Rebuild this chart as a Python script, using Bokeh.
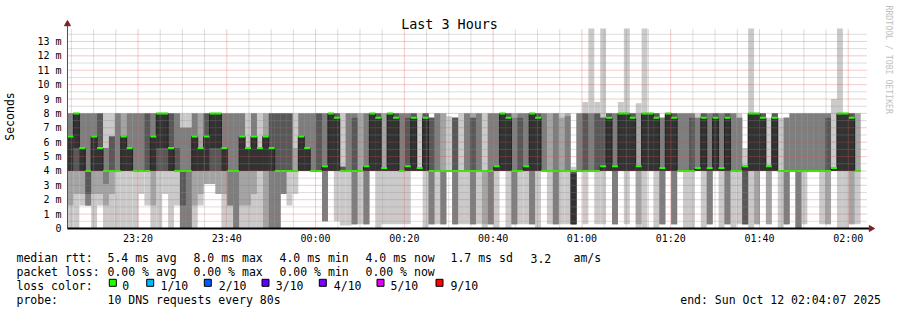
import math
import numpy as np
from bokeh.plotting import figure
from bokeh.layouts import column
from bokeh.models import FixedTicker, Range1d
from bokeh.core.properties import value
from bokeh.embed import file_html
from bokeh.resources import INLINE

# ---------------- data ----------------
STEP_MIN = 80.0 / 60.0            # one probe round every 80 s
START_MIN = 4.0 + 7.0 / 60.0      # 23:04:07, minutes after 23:00
SPAN_MIN = 180.0                  # last 3 hours
Y_TOP = 13.9                      # top of the value axis (ms)

x_tick_pos = [20, 40, 60, 80, 100, 120, 140, 160, 180]
x_tick_labels = ["23:20", "23:40", "00:00", "00:20", "00:40",
                 "01:00", "01:20", "01:40", "02:00"]
y_tick_pos = [0, 1, 2, 3, 4, 5, 6, 7, 8, 9, 10, 11, 12, 13]
y_tick_labels = ["0", "1 m", "2 m", "3 m", "4 m", "5 m", "6 m", "7 m",
                 "8 m", "9 m", "10 m", "11 m", "12 m", "13 m"]

# median rtt per round (ms)
median = [6.4, 8, 5.6, 4, 6.4, 5.6, 4, 4, 4, 6.4,
          5.6, 4, 4, 4, 6.4, 8, 8, 5.6, 4, 4,
          4, 6.4, 5.6, 6.4, 8, 8, 5.6, 4, 4, 6.4,
          5.6, 6.4, 5.6, 6.4, 5.6, 4, 4, 4, 4, 6.4,
          5.6, 4, 4, 4.33, 8, 7.7, 4, 4, 4, 4,
          4.33, 8, 7.7, 4.2, 8, 7.7, 4, 4.33, 7.7, 4.2,
          7.7, 4, 4, 4, 4, 4, 4, 4, 4, 4,
          4, 4, 4.33, 8, 7.7, 4, 4, 4.33, 8, 7.7,
          4, 4, 4, 4, 4, 4, 4, 4, 4, 4,
          4.33, 7.7, 4.33, 8, 8, 7.7, 4.33, 8, 8, 7.7,
          4.2, 8, 7.7, 4, 4, 4, 4.2, 7.7, 4.2, 7.7,
          4.2, 7.7, 4, 4, 4.33, 8, 8, 7.7, 4.33, 7.7,
          4, 4, 4, 4, 4, 4, 4, 4, 4, 4.2,
          8, 8, 7.7, 4]

# the ten sorted pings of every round (ms), lowest to highest
ping1 = [0, 0, 1.6, 1.6, 0, 1.6, 0, 0, 0, 0,
         0, 0, 2.4, 1.6, 0, 0, 2.4, 0, 1.6, 0,
         0, 0, 1.6, 3.1, 3.1, 2.4, 0, 0, 0, 0,
         0, 0, 0, 0, 0, 0, 2.4, 1.6, 2.4, 4,
         4, 4, 4, 0.5, 4, 0.5, 0.2, 0.2, 0.3, 0.3,
         0.3, 4, 0, 0.3, 0.3, 0.3, 0.3, 0.3, 4, 4,
         0, 0.3, 0.3, 0.3, 4, 0.3, 0.3, 0.3, 0.3, 0.3,
         0, 0.3, 0, 4, 0, 0.3, 0.3, 0.3, 0.3, 0,
         4, 0.3, 0.3, 0.3, 0.3, 0.3, 4, 0.3, 4, 0.3,
         0.3, 4, 0.3, 4, 0.3, 4, 0, 0, 4, 0,
         0.3, 4, 0.3, 4, 0, 0, 4, 0, 0.3, 4,
         0, 0.3, 0, 0.3, 0.3, 0, 0.3, 4, 0.3, 4,
         0, 0.3, 4, 0, 0.3, 4, 4, 0.3, 0.3, 4,
         0, 0, 0.3, 0.3]
ping2 = [1.6, 2.4, 2.4, 1.6, 2.4, 2.4, 1.6, 2.4, 4, 4,
         4, 4, 4, 4, 1.6, 4, 4, 4, 4, 0,
         0, 1.6, 2.4, 3.1, 3.1, 2.4, 2.4, 1.6, 0, 1.6,
         1.6, 2.4, 4, 0, 0, 0, 2.4, 4, 4, 4,
         4, 4, 4, 0.5, 4, 4, 4, 4, 0.3, 4,
         0.3, 4, 4, 4, 4, 4, 4, 4, 4, 4,
         4, 0.3, 4, 0.3, 4, 0.3, 4, 4, 0.3, 4,
         0.3, 0.3, 4, 4, 4, 0.3, 4, 4, 0.3, 4,
         4, 4, 0.3, 4, 4, 0.3, 4, 4, 4, 4,
         4, 4, 0.3, 4, 4, 4, 0.3, 4, 4, 4,
         0.3, 4, 0.3, 4, 4, 4, 4, 4, 0.3, 4,
         4, 0.3, 4, 4, 0.3, 4, 0.3, 4, 0.3, 4,
         4, 0.3, 4, 0, 4, 4, 4, 4, 0.3, 4,
         4, 4, 0.3, 4]
ping3 = [4, 4, 4, 1.6, 4, 4, 3.1, 4, 4, 4,
         4, 4, 4, 4, 4, 4, 4, 4, 4, 0,
         0, 4, 4, 4, 4, 4, 4, 1.6, 0, 4,
         4, 4, 4, 4, 0, 0, 2.4, 4, 4, 4,
         4, 4, 4, 0.5, 4, 4, 4, 4, 0.3, 4,
         0.3, 4, 4, 4, 4, 4, 4, 4, 4, 4,
         4, 0.3, 4, 0.3, 4, 0.3, 4, 4, 0.3, 4,
         4, 0.3, 4, 4, 4, 0.3, 4, 4, 0.3, 4,
         4, 4, 0.3, 4, 4, 0.3, 4, 4, 4, 4,
         4, 4, 0.3, 4, 4, 4, 4, 4, 4, 4,
         0.3, 4, 0.3, 4, 4, 4, 4, 4, 0.3, 4,
         4, 0.3, 4, 4, 0.3, 4, 4, 4, 4, 4,
         4, 0.3, 4, 0, 4, 4, 4, 4, 4, 4,
         4, 4, 4, 4]
ping4 = [4, 4, 4, 2.4, 4, 4, 4, 4, 4, 4,
         4, 4, 4, 4, 4, 4, 4, 4, 4, 1.6,
         4, 4, 4, 4, 4, 4, 4, 4, 4, 4,
         4, 4, 4, 4, 4, 4, 4, 4, 4, 4,
         4, 4, 4, 4, 4, 4, 4, 4, 4, 4,
         4, 4, 4, 4, 4, 4, 4, 4, 4, 4,
         4, 4, 4, 4, 4, 4, 4, 4, 4, 4,
         4, 4, 4, 4, 4, 4, 4, 4, 4, 4,
         4, 4, 4, 4, 4, 0.3, 4, 4, 4, 4,
         4, 4, 4, 4, 4, 4, 4, 4, 4, 4,
         4, 4, 4, 4, 4, 4, 4, 4, 4, 4,
         4, 4, 4, 4, 0.3, 4, 4, 4, 4, 4,
         4, 4, 4, 4, 4, 4, 4, 4, 4, 4,
         4, 4, 4, 4]
ping5 = [4, 5.6, 4, 4, 4, 4, 4, 4, 4, 4,
         4, 4, 4, 4, 4, 5.6, 5.6, 4, 4, 4,
         4, 4, 4, 4, 5.6, 5.6, 4, 4, 4, 4,
         4, 4, 4, 4, 4, 4, 4, 4, 4, 4,
         4, 4, 4, 4, 4, 4, 4, 4, 4, 4,
         4, 4, 4, 4, 4, 4, 4, 4, 4, 4,
         4, 4, 4, 4, 4, 4, 4, 4, 4, 4,
         4, 4, 4, 4, 4, 4, 4, 4, 4, 4,
         4, 4, 4, 4, 4, 0.3, 4, 4, 4, 4,
         4, 4, 4, 4, 4, 4, 4, 4, 4, 4,
         4, 4, 4, 4, 4, 4, 4, 4, 4, 4,
         4, 4, 4, 4, 4, 4, 4, 4, 4, 4,
         4, 4, 4, 4, 4, 4, 4, 4, 4, 4,
         4, 4, 4, 4]
ping6 = [6.4, 8, 5.6, 4, 6.4, 5.6, 4, 4, 4, 6.4,
         5.6, 4, 4, 4, 6.4, 8, 8, 5.6, 4, 4,
         4, 6.4, 5.6, 6.4, 8, 8, 5.6, 4, 4, 6.4,
         5.6, 6.4, 5.6, 6.4, 5.6, 4, 4, 4, 4, 6.4,
         5.6, 4, 4, 4.33, 8, 7.7, 4, 4, 4, 4,
         4.33, 8, 7.7, 4.2, 8, 7.7, 4, 4.33, 7.7, 4.2,
         7.7, 4, 4, 4, 4, 4, 4, 4, 4, 4,
         4, 4, 4.33, 8, 7.7, 4, 4, 4.33, 8, 7.7,
         4, 4, 4, 4, 4, 3.8, 4, 4, 4, 4,
         4.33, 7.7, 4.33, 8, 8, 7.7, 4.33, 8, 8, 7.7,
         4.2, 8, 7.7, 4, 4, 4, 4.2, 7.7, 4.2, 7.7,
         4.2, 7.7, 4, 4, 4.33, 8, 8, 7.7, 4.33, 7.7,
         4, 4, 4, 4, 4, 4, 4, 4, 4, 4.2,
         8, 8, 7.7, 4]
ping7 = [6.4, 8, 5.6, 4, 6.4, 8, 4, 6.4, 4, 6.4,
         5.6, 4, 4, 8, 6.4, 8, 8, 8, 5.6, 4,
         4, 6.4, 5.6, 8, 8, 8, 5.6, 4, 4, 6.4,
         5.6, 6.4, 5.6, 6.4, 8, 8, 8, 8, 4, 6.4,
         5.6, 4, 8, 4.33, 8, 8, 4.3, 4, 7.7, 4,
         4.33, 8, 8, 4.2, 8, 8, 4, 7.7, 8, 4.2,
         8, 7.7, 4, 4, 4, 7.7, 4, 4, 7.7, 4,
         4, 4, 4.33, 8, 8, 4, 7.7, 4.33, 8, 8,
         4, 4, 4, 4, 4, 4, 4, 8, 4, 8,
         7.7, 8, 4.33, 8, 8, 8, 4.33, 8, 8, 8,
         4.2, 8, 8, 4, 4, 7.7, 4.2, 8, 4.2, 8,
         4.2, 8, 4, 4, 4.33, 8, 8, 8, 4.33, 8,
         4, 4, 4, 4, 4, 4, 4, 4, 7.7, 4.2,
         8, 8, 8, 4]
ping8 = [8, 8, 8, 8, 8, 8, 5.6, 6.4, 8, 6.4,
         8, 8, 8, 8, 8, 8, 8, 8, 8, 7,
         7, 8, 5.6, 8, 8, 8, 8, 8, 8, 8,
         5.6, 8, 5.6, 6.4, 8, 8, 8, 8, 4, 8,
         8, 8, 8, 8, 8, 8, 4.3, 8, 8, 4,
         8, 8, 8, 4.2, 8, 8, 8, 8, 8, 4.2,
         8, 7.7, 8, 4, 4, 7.7, 4, 8, 7.7, 8,
         4, 8, 8, 8, 8, 7.7, 8, 8, 8, 8,
         8, 4, 8, 4, 7.8, 4, 8, 8, 8, 8,
         7.7, 8, 8, 8, 8, 8, 4.33, 8, 8, 8,
         7.7, 8, 8, 8, 8, 8, 7.7, 8, 8, 8,
         8, 8, 8, 7.7, 4.33, 8, 8, 8, 4.33, 8,
         4, 7.7, 8, 8, 8, 8, 8, 8, 8, 4.2,
         8, 8, 8, 4]
ping9 = [8, 8, 8, 8, 8, 8, 5.6, 6.4, 8, 8,
         8, 8, 8, 8, 8, 8, 8, 8, 8, 7,
         7, 8, 8, 8, 8, 8, 8, 8, 8, 8,
         5.6, 8, 5.6, 8, 8, 8, 8, 8, 5.6, 8,
         8, 8, 8, 8, 8, 8, 4.3, 8, 8, 8,
         8, 8, 8, 8, 8, 8, 8, 8, 8, 4.2,
         8, 7.7, 8, 8, 4, 7.7, 4, 8, 8, 8,
         4, 8, 8, 8, 8, 8, 8, 8, 8, 8,
         8, 8, 8, 7.7, 8, 4, 8, 8, 8, 8,
         7.7, 8, 8, 8, 8, 8, 8, 8, 8, 8,
         7.7, 8, 8, 8, 8, 8, 7.7, 8, 8, 8,
         8, 8, 8, 7.7, 4.33, 8, 8, 8, 4.33, 8,
         4, 7.7, 8, 8, 8, 8, 8, 8, 8, 4.2,
         8, 8, 8, 8]
ping10 = [8, 8, 8, 8, 8, 8, 8, 8, 8, 8,
          8, 8, 8, 8, 8, 8, 8, 8, 8, 8,
          8, 8, 8, 8, 8, 8, 8, 8, 8, 8,
          8, 8, 8, 8, 8, 8, 8, 8, 8, 8,
          8, 8, 8, 8, 8, 8, 8, 8, 8, 8,
          8, 8, 8, 8, 8, 8, 8, 8, 8, 8,
          8, 7.7, 8, 8, 7.8, 7.7, 8, 8, 8, 8,
          8, 8, 8, 8, 8, 8, 8, 8, 8, 8,
          8, 8, 8, 8, 8, 4.3, 8, 8.8, 13.9, 8.8,
          13.9, 8, 8, 8.8, 13.9, 8, 8.7, 13.9, 8, 8,
          7.7, 8, 8, 8, 8, 8, 8, 8, 8, 8,
          8, 8, 8, 8, 5.6, 13.9, 8, 8, 7.7, 8,
          7.7, 7.7, 8, 8, 8, 8, 8, 8, 8, 9.0,
          13.9, 8, 8, 8]

pings = [ping1, ping2, ping3, ping4, ping5, ping6, ping7, ping8, ping9, ping10]
smoke_colors = ["#cacaca", "#a4a4a4", "#7e7e7e", "#585858", "#323232"]

title_text = "Last 3 Hours"
y_axis_title = "Seconds"
watermark = "RRDTOOL / TOBI OETIKER"

# legend block
stat_line1 = ["median rtt:", "5.4 ms avg", "8.0 ms max", "4.0 ms min", "4.0 ms now",
              "1.7 ms sd", "3.2", "am/s"]
stat_line2 = ["packet loss:", "0.00 % avg", "0.00 % max", "0.00 % min", "0.00 % now"]
loss_caption = "loss color:"
loss_labels = ["0", "1/10", "2/10", "3/10", "4/10", "5/10", "9/10"]
loss_colors = ["#26ff00", "#00b8ff", "#0059ff", "#5e00ff", "#7e00ff", "#dd00ff", "#ff0000"]
probe_caption = "probe:"
probe_text = "10 DNS requests every 80s"
end_text = "end: Sun Oct 12 02:04:07 2025"

FONT = "DejaVu Sans Mono"

# ---------------- geometry (page pixels) ----------------
W = 897
GX0, GX1, GY0, GY1 = 66, 866, 228, 28     # graph area: left, right, bottom(0 ms), top
PX_PER_MIN = (GX1 - GX0) / SPAN_MIN
PX_PER_MS = (GY0 - GY1) / Y_TOP
A_H = 246                                 # height of the chart part
A_LEFT, A_BOTTOM = 60, 232                # frame of the chart part


def dx(px):
    return START_MIN + (px - GX0) / PX_PER_MIN


def dy(py):
    return (GY0 - py) / PX_PER_MS


p = figure(width=W, height=A_H, output_backend="svg", toolbar_location=None,
           x_range=Range1d(dx(A_LEFT), dx(W)), y_range=Range1d(dy(A_BOTTOM), dy(0)),
           min_border_left=A_LEFT, min_border_right=0, min_border_top=0,
           min_border_bottom=A_H - A_BOTTOM)
p.outline_line_color = None
p.background_fill_color = "white"
p.border_fill_color = "white"
p.xgrid.visible = False
p.ygrid.visible = False

n = len(median)
left = START_MIN + STEP_MIN * np.arange(n)
right = left + STEP_MIN

# smoke: band k spans ping(k+1) .. ping(10-k)
for k in range(5):
    lo = np.array(pings[k], dtype=float)
    hi = np.minimum(np.array(pings[9 - k], dtype=float), Y_TOP)
    keep = hi > lo
    p.quad(left=left[keep], right=right[keep], bottom=lo[keep], top=hi[keep],
           fill_color=smoke_colors[k], line_color=None)

# median: thin dark step line plus green loss-colour band
med = np.array(median, dtype=float)
p.step(x=np.append(left, right[-1]), y=np.append(med, med[-1]), mode="after",
       line_color="#202020", line_width=1)
half = 1.0 / PX_PER_MS
p.quad(left=left, right=right, bottom=med - half, top=med + half,
       fill_color=loss_colors[0], line_color=None)

# grid (dotted, drawn over the smoke like rrdtool does)
x_start, x_end = START_MIN, START_MIN + SPAN_MIN
x_minor = [m for m in range(5, 185, 5) if m % 20 != 0]
y_minor = [v + 0.5 for v in range(0, 14)]
y_major = y_tick_pos[1:]
p.segment(x0=x_minor, y0=[0] * len(x_minor), x1=x_minor, y1=[Y_TOP] * len(x_minor),
          line_color="#8f8f8f", line_alpha=0.6, line_dash="1 1", line_width=1)
p.segment(x0=[x_start] * len(y_minor), y0=y_minor, x1=[x_end] * len(y_minor), y1=y_minor,
          line_color="#8f8f8f", line_alpha=0.6, line_dash="1 1", line_width=1)
p.segment(x0=x_tick_pos, y0=[0] * len(x_tick_pos), x1=x_tick_pos,
          y1=[Y_TOP] * len(x_tick_pos),
          line_color="#de4f4f", line_alpha=0.6, line_dash="1 1", line_width=1)
p.segment(x0=[x_start] * len(y_major), y0=y_major, x1=[x_end] * len(y_major), y1=y_major,
          line_color="#de4f4f", line_alpha=0.6, line_dash="1 1", line_width=1)

# axis lines with arrows
p.segment(x0=[x_start], y0=[0], x1=[x_start], y1=[dy(24)], line_color="#505050", line_width=1)
p.segment(x0=[x_start], y0=[0], x1=[dx(869)], y1=[0], line_color="#000000", line_width=2)
p.scatter(x=[x_start], y=[dy(23.5)], marker="triangle", size=6,
          fill_color="#801f1f", line_color="#801f1f")
p.scatter(x=[dx(870.5)], y=[0], marker="triangle", size=6, angle=-math.pi / 2,
          fill_color="#801f1f", line_color="#801f1f")

# title and vertical credit
p.text(x=[dx(448.5)], y=[dy(23.5)], text=[title_text], text_font=value(FONT),
       text_font_size="13.4px", text_align="center", text_baseline="alphabetic",
       text_color="#000000")
p.text(x=[dx(888.5)], y=[dy(5)], text=[watermark], text_font=value(FONT),
       text_font_size="8.2px", text_align="left", text_baseline="middle",
       text_color="#c0c0c0", angle=-math.pi / 2)

# axes (tick labels only, lines drawn above)
p.xaxis.ticker = FixedTicker(ticks=x_tick_pos, minor_ticks=[])
p.yaxis.ticker = FixedTicker(ticks=y_tick_pos, minor_ticks=[])
p.xaxis.major_label_overrides = {t: l for t, l in zip(x_tick_pos, x_tick_labels)}
p.yaxis.major_label_overrides = {t: l for t, l in zip(y_tick_pos, y_tick_labels)}
for ax in (p.xaxis[0], p.yaxis[0]):
    ax.axis_line_color = None
    ax.major_tick_out = 0
    ax.major_tick_in = 0
    ax.minor_tick_out = 0
    ax.minor_tick_in = 0
    ax.major_label_text_font = FONT
    ax.major_label_text_font_size = "10px"
    ax.major_label_text_color = "#000000"
    ax.major_label_standoff = 0
p.yaxis.axis_label = y_axis_title
p.yaxis.axis_label_text_font = FONT
p.yaxis.axis_label_text_font_size = "11.5px"
p.yaxis.axis_label_text_font_style = "normal"
p.yaxis.axis_label_text_color = "#000000"
p.yaxis.axis_label_standoff = 17

# ---------------- legend block (page-pixel coordinates) ----------------
B_H = 310 - A_H
lg = figure(width=W, height=B_H, output_backend="svg", toolbar_location=None,
            x_range=Range1d(0, W), y_range=Range1d(310, A_H),
            x_axis_location=None, y_axis_location=None,
            min_border_left=0, min_border_right=0, min_border_top=0,
            min_border_bottom=0)
lg.outline_line_color = None
lg.xgrid.visible = False
lg.ygrid.visible = False
lg.background_fill_color = "white"
lg.border_fill_color = "white"
# keep the legend frame spanning the full width (no frame alignment with the chart)
p.frame_align = False
lg.frame_align = False

BL = [257.6, 271.5, 285.4, 299.3]          # text baselines
tx, ty, tt = [], [], []
for xx, t in zip([16, 107, 193, 279, 365, 450, 530, 573], stat_line1):
    tx.append(xx); ty.append(BL[0]); tt.append(t)
for xx, t in zip([16, 107, 193, 279, 365], stat_line2):
    tx.append(xx); ty.append(BL[1]); tt.append(t)
tx.append(16); ty.append(BL[2]); tt.append(loss_caption)
box_x = [108.3, 145.7, 203.3, 261.0, 318.3, 376.0, 435.0]
lab_x = [121.7, 160.0, 218.3, 275.3, 333.3, 390.0, 450.0]
for lx, t in zip(lab_x, loss_labels):
    tx.append(lx); ty.append(BL[2]); tt.append(t)
tx.append(16); ty.append(BL[3]); tt.append(probe_caption)
tx.append(107); ty.append(BL[3]); tt.append(probe_text)
lg.text(x=tx, y=ty, text=tt, text_font=value(FONT), text_font_size="11.5px",
        text_align="left", text_baseline="alphabetic", text_color="#000000")
lg.text(x=[880.5], y=[BL[3]], text=[end_text], text_font=value(FONT),
        text_font_size="11.5px", text_align="right", text_baseline="alphabetic",
        text_color="#000000")
lg.quad(left=[b + 0.5 for b in box_x], right=[b + 7.5 for b in box_x],
        top=[278.8] * len(box_x), bottom=[285.8] * len(box_x),
        fill_color=loss_colors, line_color="#000000", line_width=1)

layout = column(p, lg, spacing=0)
open("out.html", "w").write(file_html(layout, INLINE))
